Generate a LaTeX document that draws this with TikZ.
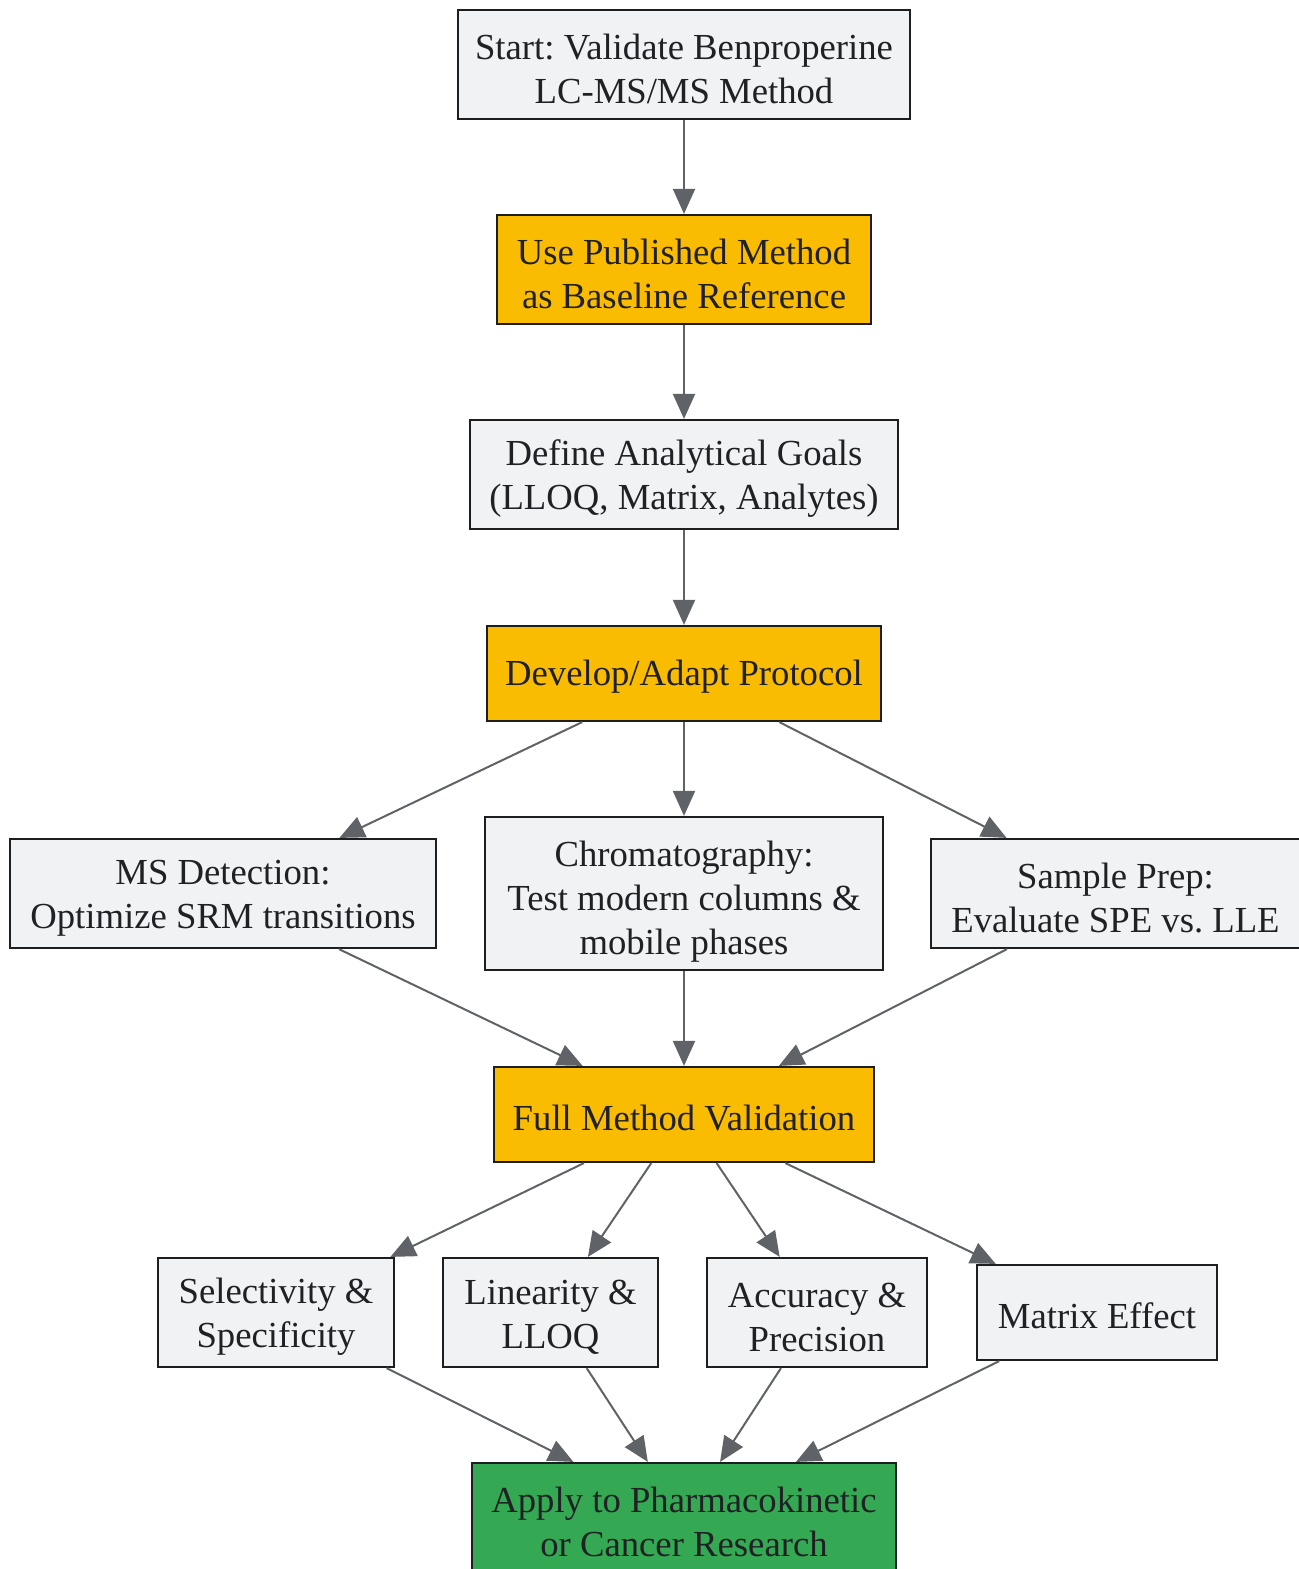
\documentclass[tikz,border=0pt]{standalone}
\usepackage{fontspec}
\setmainfont{Liberation Serif}
\usetikzlibrary{arrows.meta}
\definecolor{boxgray}{HTML}{F1F2F4}
\definecolor{stepamber}{HTML}{F9BC00}
\definecolor{goalgreen}{HTML}{34A853}
\definecolor{linkgray}{HTML}{5F6368}
\definecolor{inkdark}{HTML}{202124}
\tikzset{
  stepbox/.style={draw=inkdark!90!black, line width=1.1pt, fill=boxgray, align=center,
    inner sep=0pt, text=inkdark, font=\fontsize{18.35}{22}\selectfont\frenchspacing,
    execute at begin node={\rule{0pt}{16pt}}},
  keystep/.style={stepbox, fill=stepamber},
  goalstep/.style={stepbox, fill=goalgreen},
  lines/.style={text height=#1},
  lines/.default=39pt,
  link/.style={draw=linkgray, line width=1pt, -{Triangle[length=12.5pt, width=11pt]}},
}

\begin{document}
\begin{tikzpicture}[x=0.5pt, y=-0.5pt]
  \useasboundingbox (0,0) rectangle (1299,1569);
  % main column
  \node[stepbox, lines, minimum width=226pt, minimum height=54.5pt] (start) at (684,64.5)
    {Start: Validate Benproperine\\LC-MS/MS Method};
  \node[keystep, lines, minimum width=187pt, minimum height=54.5pt] (base) at (684,269.5)
    {Use Published Method\\as Baseline Reference};
  \node[stepbox, lines, minimum width=214pt, minimum height=54.5pt] (goals) at (684,474.5)
    {Define Analytical Goals\\(LLOQ, Matrix, Analytes)};
  \node[keystep, minimum width=197pt, minimum height=47.5pt] (proto) at (684,673.5)
    {Develop/Adapt Protocol};
  % protocol branches
  \node[stepbox, lines, minimum width=213pt, minimum height=54.5pt] (msdet) at (223,893.5)
    {MS Detection:\\Optimize SRM transitions};
  \node[stepbox, lines=65pt, minimum width=199pt, minimum height=76.5pt] (chrom) at (684,893.5)
    {Chromatography:\\Test modern columns \&\\mobile phases};
  \node[stepbox, lines, minimum width=184.5pt, minimum height=54.5pt] (prep) at (1115.5,893.5)
    {Sample Prep:\\Evaluate SPE vs. LLE};
  \node[keystep, minimum width=190pt, minimum height=47.5pt] (valid) at (684,1114.5)
    {Full Method Validation};
  % validation parameters
  \node[stepbox, lines, minimum width=118pt, minimum height=54.5pt] (select) at (276,1312.5)
    {Selectivity \&\\Specificity};
  \node[stepbox, lines, minimum width=107.5pt, minimum height=54.5pt] (linear) at (550.5,1312.5)
    {Linearity \&\\LLOQ};
  \node[stepbox, lines, minimum width=110pt, minimum height=54.5pt] (accur) at (817,1312.5)
    {Accuracy \&\\Precision};
  \node[stepbox, minimum width=120pt, minimum height=47.5pt] (matrix) at (1097,1312.5)
    {Matrix Effect};
  \node[goalstep, lines, minimum width=212pt, minimum height=54.5pt] (apply) at (684,1517.5)
    {Apply to Pharmacokinetic\\or Cancer Research};

  \draw[link] (start) -- (base);
  \draw[link] (base) -- (goals);
  \draw[link] (goals) -- (proto);
  \foreach \b in {msdet, chrom, prep} {
    \draw[link] (proto) -- (\b);
    \draw[link] (\b) -- (valid);
  }
  \foreach \p in {select, linear, accur, matrix} {
    \draw[link] (valid) -- (\p);
    \draw[link] (\p) -- (apply);
  }
\end{tikzpicture}
\end{document}
